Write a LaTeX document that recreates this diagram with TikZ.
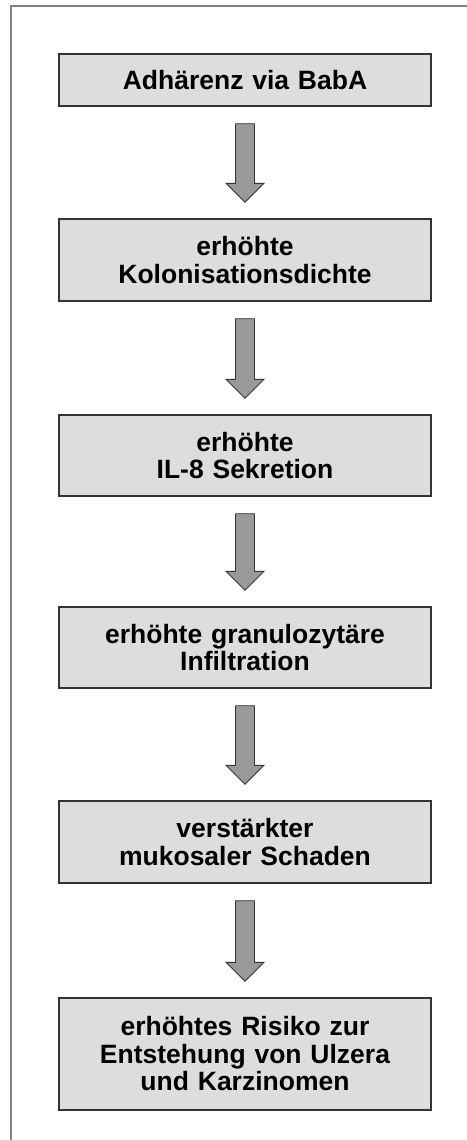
\documentclass[tikz,border=0pt]{standalone}
\usepackage{fontspec}
\setmainfont{Liberation Sans}
\usetikzlibrary{calc}
\definecolor{boxfill}{HTML}{DDDDDD}
\definecolor{boxline}{HTML}{333333}
\definecolor{arrowfill}{HTML}{999999}
\definecolor{framecol}{HTML}{808080}
\tikzset{
  stepbox/.style={draw=boxline, line width=1.4pt, fill=boxfill, minimum width=372pt,
    text width=360pt, align=center, inner sep=0pt,
    font=\fontsize{26.5}{27.5}\selectfont\bfseries},
  bigarrow/.style={draw=boxline, line width=0.9pt, fill=arrowfill, line join=miter},
  framestyle/.style={draw=framecol, line width=2pt}
}
\newcommand\flowarrow[2]{%
  \draw[bigarrow] let \p1=($(#1.south)+(0,-17pt)$), \p2=($(#2.north)+(0,16pt)$) in
    (\x1-9.5pt,\y1) -- (\x1+9.5pt,\y1) -- (\x1+9.5pt,\y2+19pt) -- (\x1+19pt,\y2+19pt)
    -- (\x1,\y2) -- (\x1-19pt,\y2+19pt) -- (\x1-9.5pt,\y2+19pt) -- cycle;}
\begin{document}
\begin{tikzpicture}[x=1pt,y=-1pt]
\useasboundingbox (0,0) rectangle (466,1140);
\draw[framestyle] (11,1145) -- (11,6) -- (470,6);
\node[stepbox, minimum height=52pt] (b1) at (245,80) {Adhärenz via BabA};
\node[stepbox, minimum height=82pt] (b2) at (245,260) {erhöhte\\Kolonisationsdichte};
\node[stepbox, minimum height=81pt] (b3) at (245,455.5) {erhöhte\\IL-8 Sekretion};
\node[stepbox, minimum height=81pt] (b4) at (245,647.5) {erhöhte granulozytäre\\Infiltration};
\node[stepbox, minimum height=82pt] (b5) at (245,842) {verstärkter\\mukosaler Schaden};
\node[stepbox, minimum height=112pt] (b6) at (245,1054) {erhöhtes Risiko zur\\Entstehung von Ulzera\\und Karzinomen};
\flowarrow{b1}{b2}
\flowarrow{b2}{b3}
\flowarrow{b3}{b4}
\flowarrow{b4}{b5}
\flowarrow{b5}{b6}
\end{tikzpicture}
\end{document}
